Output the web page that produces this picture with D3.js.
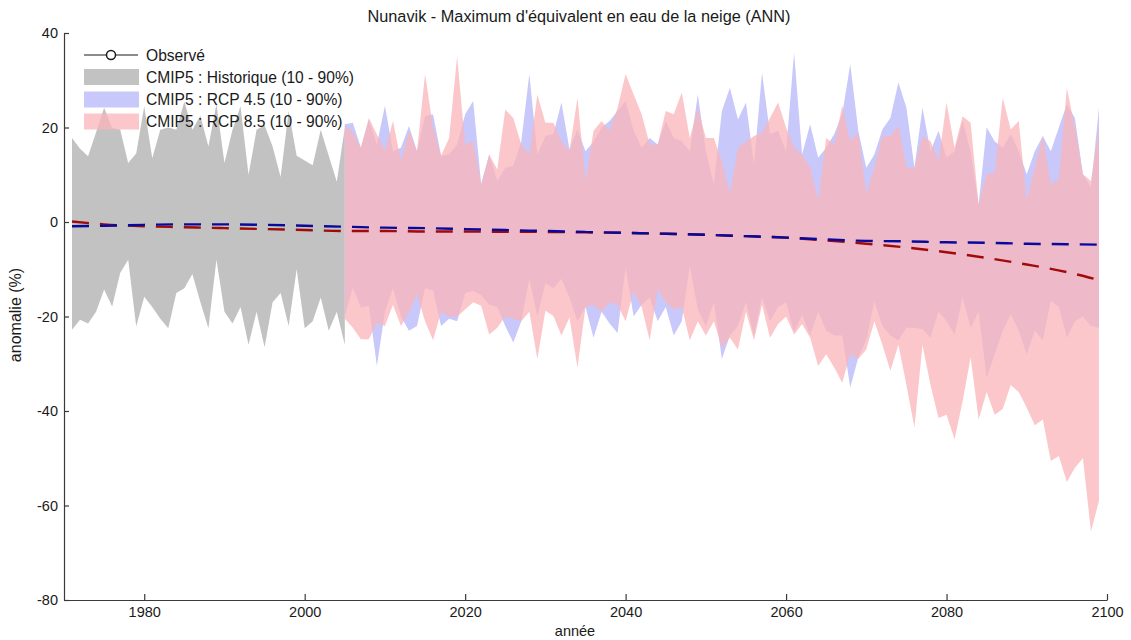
<!DOCTYPE html>
<html><head><meta charset="utf-8">
<script src="https://cdn.jsdelivr.net/npm/d3@7"></script>
<style>
body{margin:0;background:#fff}
text{font-family:Arial,"Liberation Sans",sans-serif;fill:#1a1a1a}
</style>
</head><body>
<svg id="chart" width="1131" height="640"></svg>
<script>
// ---------- DATA ----------
const histStartYear = 1971;
const histUpper = [17.8,15.5,13.9,19,24.2,19.9,19.6,12.5,14.5,24.5,13.5,19.5,20,19.5,25.5,19.5,22.5,16,25,12.5,19.5,24.5,10,19.5,20.5,16,9.5,23.5,14,13,12,19.5,14,8.5,20];
const histLower = [-22.8,-20.7,-21.5,-19,-14.3,-17.9,-10.8,-8,-22.1,-15.8,-18,-20.5,-22.5,-15,-14,-11,-17,-22.5,-8,-19,-21.5,-18,-26,-19,-26.5,-17,-15,-22,-10,-22.5,-21,-16,-23,-19,-26];

const projStartYear = 2005;
const rcp45Upper = [20.7,21,15.7,21.7,16.4,24.6,15,15.7,20.3,15,22.4,22.8,14,14.3,16.4,22.8,25.6,8,14.3,8.7,
  11.5,11.9,17.1,31.3,14.3,18.2,18.6,25.3,15.4,19.6,15,17,20,21.4,23.5,25.6,19.3,15.7,17.8,16.4,
  21.4,17.8,17.1,15,27,15,8,23.5,28.4,21.7,25.3,12.2,31.6,18.6,19.3,15,35.8,14.3,20.7,13.6,
  15.7,18.6,22.8,33.4,19.3,11.5,14.3,19.6,22,29.5,24.2,11.5,24.2,15,19.3,13.6,15,21.4,15,3.7,
  20,17.1,15.7,18.6,15,10.1,15,18.2,15,20,24.9,22,10.1,7.3,24.2];
const rcp45Lower = [-20,-13.9,-18.1,-17.8,-30.5,-19,-14,-20,-23,-22,-14,-14.5,-22,-20.5,-21,-15,-14.6,-15.5,-17.5,-18,
  -22,-25.5,-21,-12,-20,-13,-14,-12,-16,-21,-18,-24.5,-19,-21.5,-23.5,-9.6,-20,-17.5,-16,-21,
  -18,-24,-21,-9.3,-18.5,-22,-17,-29,-24,-22,-17,-24,-16,-21,-18,-17,-23.4,-19.6,-24,-19,
  -23,-24,-24,-35,-28.7,-25,-16.7,-22,-24,-25,-22.4,-22.4,-22.7,-24.5,-19,-21,-23.8,-16,-22.4,-19,
  -33,-28,-23,-19.6,-23,-28,-23,-25,-16.7,-18,-24.5,-21,-20,-22,-22.4];
const rcp85Upper = [20.5,19,15.7,22,18.5,15,21.4,12.9,19.3,15,31.3,20,14,17.8,35.1,16.4,17.1,8,14.3,11.1,
  23.8,22,16.4,14.3,27,21,21,17,15,26.3,8.7,19.3,21.4,19.3,24.2,31.3,27,22.8,16.4,16.4,
  23.5,22.8,27.4,17.8,24.2,17.8,17.8,12.9,6,15.7,17,18.2,18.9,22,25.3,20,15.7,14.3,11.5,4.5,
  17.8,16.4,24.6,17.1,18.9,6,11.5,18.2,18.2,20.3,11.5,11.5,18.2,17.1,12.9,25.3,15.7,22.4,21,3.7,
  10.1,10.4,26.3,19.6,21.4,4.4,11.5,18.2,8,9,28.4,20,10.1,8.7,20];
const rcp85Lower = [-20.5,-22.4,-24.8,-24.8,-21.3,-22,-17.5,-22,-19,-15.3,-21,-25,-19,-20,-20,-18.5,-17,-17.7,-23.8,-22.4,
  -20,-20.5,-21,-19,-29,-18.8,-19.9,-24,-20.2,-30.8,-18,-17.5,-19,-17,-17.5,-21,-14.6,-18,-25,-14.2,
  -17,-18.5,-18,-25,-21,-24,-21,-26.5,-24.5,-27,-19,-25,-17.5,-24.5,-21.6,-20,-23.8,-21.6,-24.5,-30.5,
  -28,-30.8,-34,-28,-29,-27,-21,-26,-31.5,-26,-34.5,-43.5,-26,-34.5,-41.5,-40.8,-46,-38,-28.7,-41.8,
  -36,-40.8,-39.6,-34.5,-36,-39.3,-43,-41.8,-50.6,-49.5,-55,-52,-50,-65.5,-59];

const meanYears = [1971,1975,1980,1985,1990,1995,2000,2005,2010,2015,2020,2025,2030,2035,2040,2045,2050,2055,2060,2065,2070,2075,2080,2085,2090,2095,2099];
const rcp45Mean = [-0.9,-0.8,-0.6,-0.5,-0.5,-0.6,-0.8,-1.0,-1.2,-1.3,-1.5,-1.7,-1.9,-2.1,-2.3,-2.5,-2.7,-3.0,-3.3,-3.7,-4.0,-4.1,-4.3,-4.4,-4.6,-4.7,-4.8];
const rcp85Mean = [0.1,-0.5,-0.9,-1.1,-1.3,-1.5,-1.7,-1.9,-1.9,-2.0,-2.0,-2.1,-2.1,-2.2,-2.3,-2.5,-2.7,-3.0,-3.3,-3.9,-4.6,-5.4,-6.4,-7.6,-9.0,-10.6,-12.3];

const xTickValues = [1980,2000,2020,2040,2060,2080,2100];
const yTickValues = [-80,-60,-40,-20,0,20,40];
const titleText = "Nunavik - Maximum d'équivalent en eau de la neige (ANN)";
const xLabel = "année";
const yLabel = "anomalie (%)";
const legendLabels = ["Observé","CMIP5 : Historique (10 - 90%)","CMIP5 : RCP 4.5 (10 - 90%)","CMIP5 : RCP 8.5 (10 - 90%)"];

// ---------- STYLE ----------
const colHist = "#c2c2c2";
const colBlue = "#c8c8fa";
const colPink = "rgb(250,182,185)";
const pinkOpacity = 0.76;
const colBlueLine = "#0a0a9a";
const colRedLine = "#a00a0a";

// ---------- CHART ----------
const svg = d3.select("#chart");
const x = d3.scaleLinear().domain([1970, 2100]).range([64, 1107]);
const y = d3.scaleLinear().domain([-80, 40]).range([600, 33]);

const band = (start, up, lo) => up.map((u, i) => ({year: start + i, hi: u, lo: lo[i]}));
const area = d3.area().x(d => x(d.year)).y0(d => y(d.lo)).y1(d => y(d.hi));

svg.append("path").datum(band(histStartYear, histUpper, histLower))
  .attr("d", area).attr("fill", colHist);
svg.append("path").datum(band(projStartYear, rcp45Upper, rcp45Lower))
  .attr("d", area).attr("fill", colBlue);
svg.append("path").datum(band(projStartYear, rcp85Upper, rcp85Lower))
  .attr("d", area).attr("fill", colPink).attr("fill-opacity", pinkOpacity);

const line = d3.line().x(d => x(d[0])).y(d => y(d[1])).curve(d3.curveMonotoneX);
svg.append("path").datum(meanYears.map((yr, i) => [yr, rcp85Mean[i]]))
  .attr("d", line).attr("fill", "none").attr("stroke", colRedLine)
  .attr("stroke-width", 2.4).attr("stroke-dasharray", "17,11");
svg.append("path").datum(meanYears.map((yr, i) => [yr, rcp45Mean[i]]))
  .attr("d", line).attr("fill", "none").attr("stroke", colBlueLine)
  .attr("stroke-width", 2.4).attr("stroke-dasharray", "17,11");

// axes
const axisColor = "#3a3a3a";
const fmt = d => String(d);
const gx = svg.append("g").attr("transform", "translate(0,600)")
  .call(d3.axisBottom(x).tickValues(xTickValues).tickFormat(fmt)
    .tickSize(-6).tickSizeOuter(0).tickPadding(7));
const gy = svg.append("g").attr("transform", "translate(64,0)")
  .call(d3.axisLeft(y).tickValues(yTickValues).tickFormat(fmt)
    .tickSize(-5).tickSizeOuter(0).tickPadding(6));
[gx, gy].forEach(g => {
  g.selectAll("path,line").attr("stroke", axisColor).attr("stroke-width", 1.2);
  g.selectAll("text").attr("font-size", 14.5).attr("fill", "#1a1a1a")
    .attr("font-family", "Arial, 'Liberation Sans', sans-serif");
});

// titles
svg.append("text").attr("x", 579).attr("y", 22).attr("text-anchor", "middle")
  .attr("font-size", 16.3).text(titleText);
svg.append("text").attr("x", 575).attr("y", 636).attr("text-anchor", "middle")
  .attr("font-size", 14.5).text(xLabel);
svg.append("text").attr("transform", "translate(21,315) rotate(-90)")
  .attr("text-anchor", "middle").attr("font-size", 16).text(yLabel);

// legend
const lg = svg.append("g");
lg.append("line").attr("x1", 84).attr("x2", 138).attr("y1", 55).attr("y2", 55)
  .attr("stroke", "#1a1a1a").attr("stroke-width", 1.2);
lg.append("circle").attr("cx", 111).attr("cy", 55).attr("r", 4.5)
  .attr("fill", "#fff").attr("stroke", "#1a1a1a").attr("stroke-width", 1.5);
const patches = [null, {c: colHist, o: 1}, {c: colBlue, o: 1}, {c: colPink, o: pinkOpacity}];
const rowY = [55, 77, 99.5, 121.5];
legendLabels.forEach((lab, i) => {
  if (patches[i]) {
    lg.append("rect").attr("x", 84).attr("y", rowY[i] - 8).attr("width", 55).attr("height", 16)
      .attr("fill", patches[i].c).attr("fill-opacity", patches[i].o);
  }
  lg.append("text").attr("x", 146).attr("y", rowY[i] + 5.5).attr("font-size", 15.6).text(lab);
});
</script>
</body></html>
